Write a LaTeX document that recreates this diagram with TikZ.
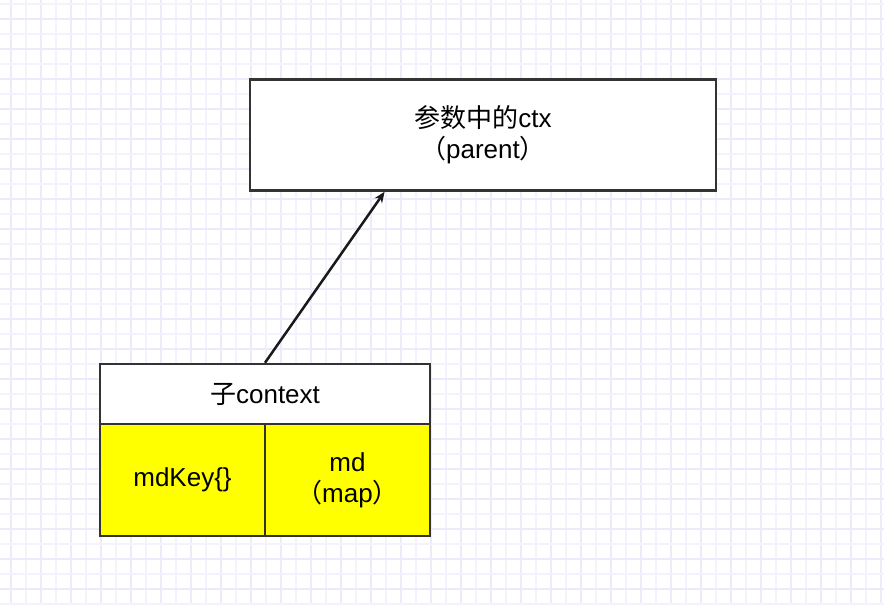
\documentclass[tikz,border=0pt]{standalone}
\usepackage{fontspec}
\setmainfont{Liberation Sans}
\newfontfamily\cjk{Noto Sans CJK SC}
\usetikzlibrary{arrows.meta,calc}

\definecolor{gridmajor}{HTML}{ECEAFB}
\definecolor{gridminor}{HTML}{F4F3FD}
\definecolor{boxline}{HTML}{333333}
\definecolor{cellfill}{HTML}{FFFF00}

\begin{document}
\begin{tikzpicture}[x=1pt, y=-1pt, line width=2.5pt, line join=miter, >={Stealth[length=11pt,width=9pt]},
  box/.style={draw=boxline, fill=white, inner sep=0pt, align=center, font=\fontsize{26}{31}\selectfont},
  cell/.style={box, fill=cellfill}]
  \useasboundingbox[fill=white] (0,0) rectangle (884,605);
  % background grid
  \foreach \i in {0,...,29} {
    \draw[gridmajor, line width=1.2pt] ({11+30*\i},0) -- ({11+30*\i},605);
    \draw[gridminor, line width=1.2pt] ({26+30*\i},0) -- ({26+30*\i},605);
  }
  \foreach \j in {0,...,20} {
    \draw[gridminor, line width=1.2pt] (0,{4+30*\j}) -- (884,{4+30*\j});
    \draw[gridmajor, line width=1.2pt] (0,{19+30*\j}) -- (884,{19+30*\j});
  }
  % boxes
  \node[box, minimum width=466, minimum height=111] (parent) at (483,135)
    {{\cjk 参数中的}ctx\\{\cjk （}parent{\cjk ）}};
  \node[box, minimum width=330, minimum height=60] (child) at (265,394) {{\cjk 子}context};
  \node[cell, minimum width=165, minimum height=112] (mdkey) at (182.5,480) {mdKey\{\}};
  \node[cell, minimum width=165, minimum height=112] (mdmap) at (347.5,480)
    {md\\{\cjk （}map{\cjk ）}};
  % link to parent
  \draw[->, black!90] (child.north) -- ($(parent.south west)!0.29!(parent.south east)$);
\end{tikzpicture}
\end{document}
